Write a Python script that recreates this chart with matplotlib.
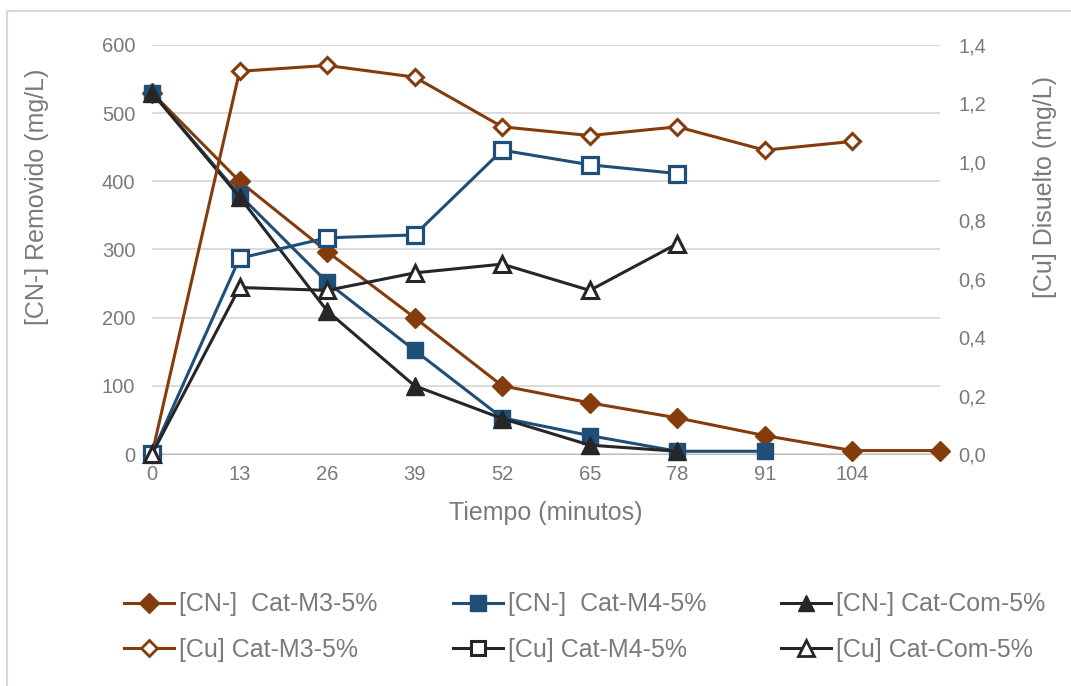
import matplotlib.pyplot as plt
from matplotlib.lines import Line2D

plt.rcParams['font.family'] = ['Liberation Sans', 'DejaVu Sans']

# categorias del eje x (la ultima sin etiqueta)
tiempos = ["0", "13", "26", "39", "52", "65", "78", "91", "104", ""]

# [CN-] removido (mg/L), eje izquierdo
cn_m3 = [530, 400, 297, 200, 100, 75, 53, 27, 5, 5]
cn_m4 = [530, 380, 252, 152, 53, 27, 4, 4]
cn_com = [530, 377, 210, 100, 52, 13, 4]

# [Cu] disuelto (mg/L), eje derecho
cu_m3 = [0.0, 1.31, 1.33, 1.29, 1.12, 1.09, 1.12, 1.04, 1.07]
cu_m4 = [0.0, 0.67, 0.74, 0.75, 1.04, 0.99, 0.96]
cu_com = [0.0, 0.57, 0.56, 0.62, 0.65, 0.56, 0.72]

marron = "#843C0C"
azul = "#1F4E79"
oscuro = "#262626"
gris = "#7a7a7a"

W, H = 1071, 686
fig = plt.figure(figsize=(W / 100, H / 100), dpi=100)
# borde del grafico (arriba e izquierda)
fig.add_artist(Line2D([7 / W, 1], [1 - 10.5 / H] * 2, color="#d9d9d9", lw=1.5))
fig.add_artist(Line2D([7 / W] * 2, [0, 1 - 10.5 / H], color="#d9d9d9", lw=1.5))

ax = fig.add_axes([152 / W, 1 - 454 / H, 788 / W, 409 / H])
ax2 = ax.twinx()

lw = 2.2
x = range(len(tiempos))
ax.plot(x[:len(cn_m3)], cn_m3, color=marron, lw=lw, marker="D", ms=10, zorder=3, clip_on=False)
ax.plot(x[:len(cn_m4)], cn_m4, color=azul, lw=lw, marker="s", ms=12, zorder=3, clip_on=False)
ax.plot(x[:len(cn_com)], cn_com, color=oscuro, lw=lw, marker="^", ms=13, zorder=3, clip_on=False)

ax2.plot(x[:len(cu_m3)], cu_m3, color=marron, lw=lw, marker="D", ms=8.5,
         mfc="white", mec=marron, mew=2.2, zorder=3, clip_on=False)
ax2.plot(x[:len(cu_m4)], cu_m4, color=azul, lw=lw, marker="s", ms=11.5,
         mfc="white", mec=azul, mew=2.3, zorder=3, clip_on=False)
ax2.plot(x[:len(cu_com)], cu_com, color=oscuro, lw=lw, marker="^", ms=11.5,
         mfc="white", mec=oscuro, mew=2.2, zorder=3, clip_on=False)

ax.set_xlim(0, len(tiempos) - 1)
ax.set_ylim(0, 600)
ax2.set_ylim(0, 1.4)
ax.set_xticks(list(x))
ax.set_xticklabels(tiempos)
ax.set_yticks(range(0, 601, 100))
ax2.set_yticks([i * 0.2 for i in range(8)])
ax2.set_yticklabels([f"{i * 0.2:.1f}".replace(".", ",") for i in range(8)])

ax.grid(axis="y", color="#d9d9d9", lw=1.3)
ax.set_axisbelow(True)
for a in (ax, ax2):
    for s in ("top", "left", "right"):
        a.spines[s].set_visible(False)
    a.spines["bottom"].set_color("#bfbfbf")
    a.tick_params(length=0, labelsize=14.5, colors=gris)
ax2.spines["bottom"].set_visible(False)
ax.tick_params(axis="y", pad=12)
ax2.tick_params(axis="y", pad=13)
ax.tick_params(axis="x", pad=8)

ax.set_xlabel("Tiempo (minutos)", fontsize=18, color=gris, labelpad=12)
fig.text(37 / W, 1 - 197 / H, "[CN-] Removido (mg/L)", fontsize=18, color=gris,
         rotation=90, ha="center", va="center")
fig.text(1045 / W, 1 - 187 / H, "[Cu] Disuelto (mg/L)", fontsize=18, color=gris,
         rotation=90, ha="center", va="center")

handles = [
    Line2D([], [], color=marron, lw=lw, marker="D", ms=10),
    Line2D([], [], color=marron, lw=lw, marker="D", ms=8, mfc="white", mew=2),
    Line2D([], [], color=azul, lw=lw, marker="s", ms=11),
    Line2D([], [], color=oscuro, lw=lw, marker="s", ms=10, mfc="white", mew=2.2),
    Line2D([], [], color=oscuro, lw=lw, marker="^", ms=12),
    Line2D([], [], color=oscuro, lw=lw, marker="^", ms=11, mfc="white", mew=2),
]
labels = ["[CN-]  Cat-M3-5%", "[Cu] Cat-M3-5%",
          "[CN-]  Cat-M4-5%", "[Cu] Cat-M4-5%",
          "[CN-] Cat-Com-5%", "[Cu] Cat-Com-5%"]
fig.legend(handles, labels, ncol=3, loc="center", bbox_to_anchor=(585 / W, 1 - 627 / H),
           frameon=False, fontsize=18, labelcolor=gris, handlelength=2.0,
           handletextpad=0.2, columnspacing=3.0, labelspacing=0.85)

fig.savefig("out.png", dpi=100)
